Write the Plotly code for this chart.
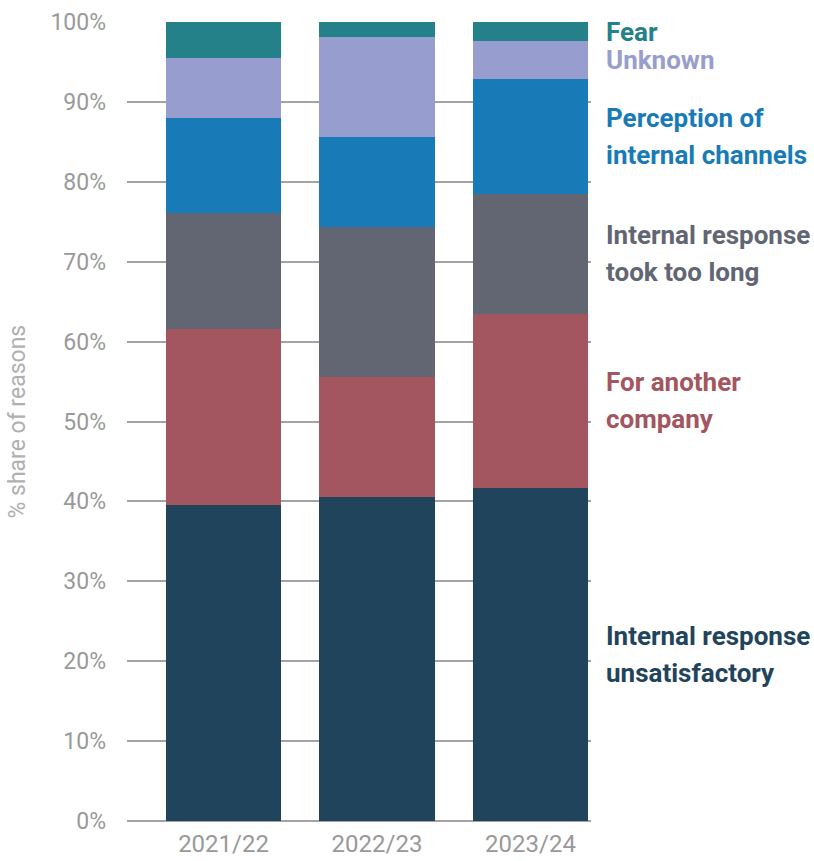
import plotly.graph_objects as go

years = ["2021/22", "2022/23", "2023/24"]
series_names = [
    "Internal response<br>unsatisfactory",
    "For another<br>company",
    "Internal response<br>took too long",
    "Perception of<br>internal channels",
    "Unknown",
    "Fear",
]
unsatisfactory = [39.5, 40.5, 41.7]
another_company = [22.1, 15.1, 21.8]
took_too_long = [14.5, 18.7, 15.0]
perception = [11.9, 11.3, 14.4]
unknown = [7.5, 12.5, 4.7]
fear = [4.5, 1.9, 2.4]
colors = ["#1F445C", "#A35560", "#626572", "#187BB7", "#979ECF", "#24818A"]
y_ticks = list(range(0, 101, 10))
y_tick_labels = [f"{v}%" for v in y_ticks]

series = [unsatisfactory, another_company, took_too_long, perception, unknown, fear]

fig = go.Figure()
for name, vals, col in zip(series_names, series, colors):
    fig.add_trace(go.Bar(
        x=years, y=vals, name=name, marker=dict(color=col, line=dict(width=0)),
        width=0.75, showlegend=False, hoverinfo="skip",
    ))

# right-hand labels at the centre of each segment of the last bar
annotations = []
cum = 0
line_gap = 37
for name, vals, col in zip(series_names, series, colors):
    mid = cum + vals[-1] / 2
    cum += vals[-1]
    lines = name.split("<br>")
    n = len(lines)
    for i, ln in enumerate(lines):
        shift = ((n - 1) / 2 - i) * line_gap
        annotations.append(dict(
            xref="paper", yref="y", x=1.028, y=mid, yshift=shift,
            xanchor="left", yanchor="middle",
            text=ln, showarrow=False, align="left",
            font=dict(family="Roboto", size=26, color=col, weight="bold"),
        ))
annotations.append(dict(
    xref="paper", yref="paper", x=-0.237, y=0.5, xanchor="center", yanchor="middle",
    text="% share of reasons", textangle=-90, showarrow=False,
    font=dict(family="Roboto", size=23, color="#b0b0b0"),
))

fig.update_layout(
    width=814, height=861,
    margin=dict(l=127, r=223, t=22, b=40, autoexpand=False),
    paper_bgcolor="white", plot_bgcolor="white",
    barmode="stack", bargap=0.25,
    annotations=annotations,
    xaxis=dict(
        range=[-0.629, 2.394], showgrid=False, zeroline=False, showline=False,
        tickfont=dict(family="Roboto", size=24, color="#999999"),
        ticks="", ticklabelstandoff=6, automargin=False,
    ),
    yaxis=dict(
        range=[0, 100], tickvals=y_ticks, ticktext=y_tick_labels,
        showgrid=True, gridcolor="#a3a3a3", gridwidth=1.5,
        zeroline=True, zerolinecolor="#a3a3a3", zerolinewidth=1.5,
        showline=False, ticks="", ticklabelstandoff=20, automargin=False,
        tickfont=dict(family="Roboto", size=23, color="#999999"),
    ),
)

fig.write_html("out.html")
